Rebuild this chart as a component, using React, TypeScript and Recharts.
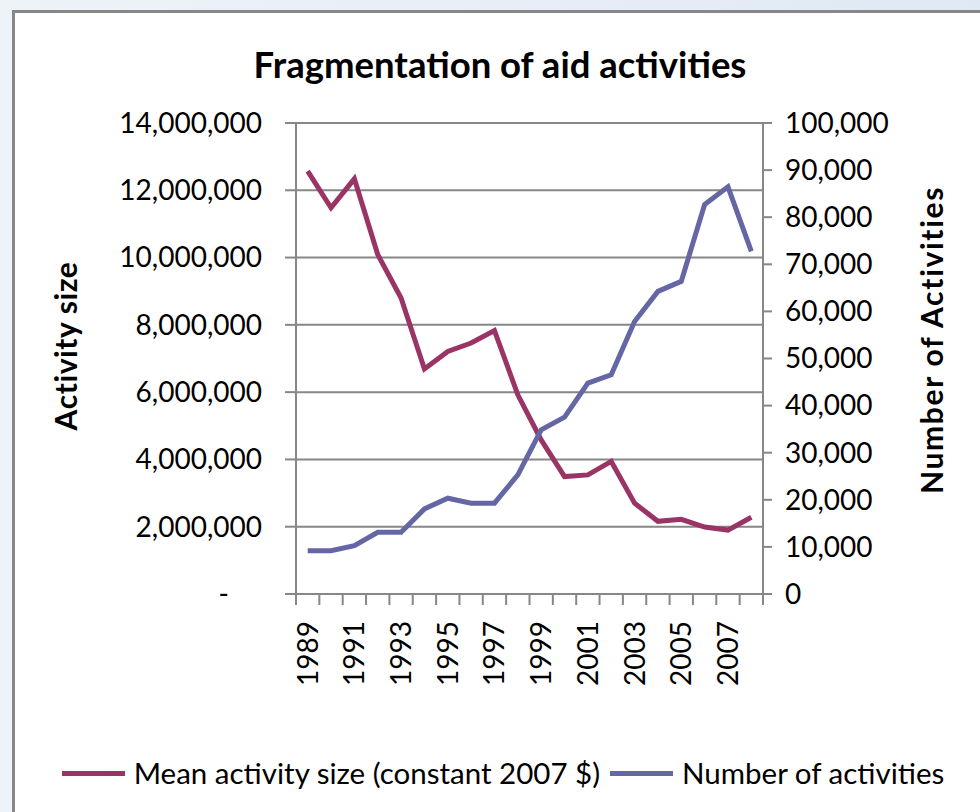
import { LineChart, Line, XAxis, YAxis, CartesianGrid, Legend } from "recharts";

const years = [1989, 1990, 1991, 1992, 1993, 1994, 1995, 1996, 1997, 1998, 1999, 2000, 2001, 2002, 2003, 2004, 2005, 2006, 2007, 2008];
const meanActivitySize = [
  12570000, 11480000, 12340000, 10090000, 8800000, 6690000, 7210000, 7460000, 7830000, 5920000,
  4580000, 3490000, 3540000, 3940000, 2700000, 2160000, 2220000, 1990000, 1900000, 2280000,
];
const activityCount = [
  9200, 9200, 10270, 13110, 13110, 18070, 20340, 19280, 19280, 25290,
  34860, 37560, 44780, 46550, 57870, 64250, 66380, 82680, 86440, 72750,
];
const sizeTicks = [0, 2000000, 4000000, 6000000, 8000000, 10000000, 12000000, 14000000];
const countTicks = [0, 10000, 20000, 30000, 40000, 50000, 60000, 70000, 80000, 90000, 100000];
const yearLabels = [1989, 1991, 1993, 1995, 1997, 1999, 2001, 2003, 2005, 2007];

const RED = "#9A3465";
const BLUE = "#6566A4";
const GRID = "#878787";
const FONT = "Lato, 'Open Sans', sans-serif";

const data = years.map((year, i) => ({ year, mean: meanActivitySize[i], count: activityCount[i] }));
// tick marks sit between categories like excel does
const boundaries = [years[0] - 0.5, ...years.map((y) => y + 0.5)];

function YearTick(props: any) {
  const { x, y, payload } = props;
  const v = payload.value as number;
  if (!Number.isInteger(v)) {
    return <line x1={x} x2={x} y1={y} y2={y + 11} stroke={GRID} strokeWidth={2} />;
  }
  return (
    <text
      transform={`translate(${x},${y + 27}) rotate(-90)`}
      textAnchor="end"
      dy={10}
      fontSize={28}
      fontFamily={FONT}
      fill="#000"
    >
      {v}
    </text>
  );
}

function SizeTick(props: any) {
  const { x, y, payload } = props;
  const v = payload.value as number;
  return (
    <text x={v === 0 ? x - 33 : x} y={y} dy="0.35em" textAnchor="end" fontSize={28} fontFamily={FONT} fill="#000">
      {v === 0 ? "-" : v.toLocaleString("en-US")}
    </text>
  );
}

function CountTick(props: any) {
  const { x, y, payload } = props;
  return (
    <text x={x} y={y} dy="0.35em" textAnchor="start" fontSize={28} fontFamily={FONT} fill="#000">
      {(payload.value as number).toLocaleString("en-US")}
    </text>
  );
}

function LegendBox() {
  const item = (color: string, label: string) => (
    <div style={{ display: "flex", alignItems: "center" }}>
      <div style={{ width: 63, height: 5, background: color, marginRight: 9 }} />
      <span>{label}</span>
    </div>
  );
  return (
    <div
      style={{
        display: "flex",
        justifyContent: "center",
        gap: 10,
        paddingLeft: 26,
        paddingTop: 6,
        fontSize: 29.5,
        fontFamily: FONT,
        color: "#000",
        lineHeight: "34px",
        whiteSpace: "nowrap",
      }}
    >
      {item(RED, "Mean activity size (constant 2007 $)")}
      {item(BLUE, "Number of activities")}
    </div>
  );
}

export default function App() {
  return (
    <div
      style={{
        position: "absolute",
        left: 0,
        top: 0,
        width: 980,
        height: 812,
        overflow: "hidden",
        background: "linear-gradient(90deg, #eef3f9 0%, #e6edf6 60%, #dfe8f3 100%)",
        fontFamily: FONT,
      }}
    >
      <div
        style={{
          position: "absolute",
          left: 12,
          top: 10,
          width: 990,
          height: 820,
          background: "#fff",
          border: `3px solid ${GRID}`,
        }}
      />
      <div
        style={{
          position: "absolute",
          left: 500,
          top: 64,
          transform: "translate(-50%, -50%)",
          fontSize: 36.5,
          fontWeight: 700,
          whiteSpace: "nowrap",
        }}
      >
        Fragmentation of aid activities
      </div>
      <div
        style={{
          position: "absolute",
          left: 65,
          top: 346,
          transform: "translate(-50%, -50%) rotate(-90deg)",
          fontSize: 30,
          letterSpacing: 0.6,
          fontWeight: 700,
          whiteSpace: "nowrap",
        }}
      >
        Activity size
      </div>
      <div
        style={{
          position: "absolute",
          left: 931,
          top: 340,
          transform: "translate(-50%, -50%) rotate(-90deg)",
          fontSize: 30,
          letterSpacing: 1.7,
          fontWeight: 700,
          whiteSpace: "nowrap",
        }}
      >
        Number of Activities
      </div>
      <div style={{ position: "absolute", left: 0, top: 0 }}>
        <LineChart width={980} height={812} data={data} margin={{ top: 123, right: 0, bottom: 0, left: 0 }}>
          <CartesianGrid yAxisId="size" vertical={false} stroke={GRID} strokeWidth={2} />
          <XAxis
            dataKey="year"
            type="number"
            domain={[years[0] - 0.5, years[years.length - 1] + 0.5]}
            ticks={[...boundaries, ...yearLabels]}
            interval={0}
            tick={<YearTick />}
            tickLine={false}
            tickSize={0}
            tickMargin={0}
            height={156}
            axisLine={{ stroke: GRID, strokeWidth: 2 }}
          />
          <YAxis
            yAxisId="size"
            width={296}
            domain={[0, 14000000]}
            ticks={sizeTicks}
            interval={0}
            tick={<SizeTick />}
            tickSize={11}
            tickMargin={23}
            tickLine={{ stroke: GRID, strokeWidth: 2 }}
            axisLine={{ stroke: GRID, strokeWidth: 2 }}
          />
          <YAxis
            yAxisId="count"
            orientation="right"
            width={217}
            domain={[0, 100000]}
            ticks={countTicks}
            interval={0}
            tick={<CountTick />}
            tickSize={9}
            tickMargin={13}
            tickLine={{ stroke: GRID, strokeWidth: 2 }}
            axisLine={{ stroke: GRID, strokeWidth: 2 }}
          />
          <Legend verticalAlign="bottom" height={62} content={<LegendBox />} />
          <Line
            yAxisId="size"
            dataKey="mean"
            name="Mean activity size (constant 2007 $)"
            stroke={RED}
            strokeWidth={5}
            dot={false}
            isAnimationActive={false}
          />
          <Line
            yAxisId="count"
            dataKey="count"
            name="Number of activities"
            stroke={BLUE}
            strokeWidth={5}
            dot={false}
            isAnimationActive={false}
          />
        </LineChart>
      </div>
    </div>
  );
}
